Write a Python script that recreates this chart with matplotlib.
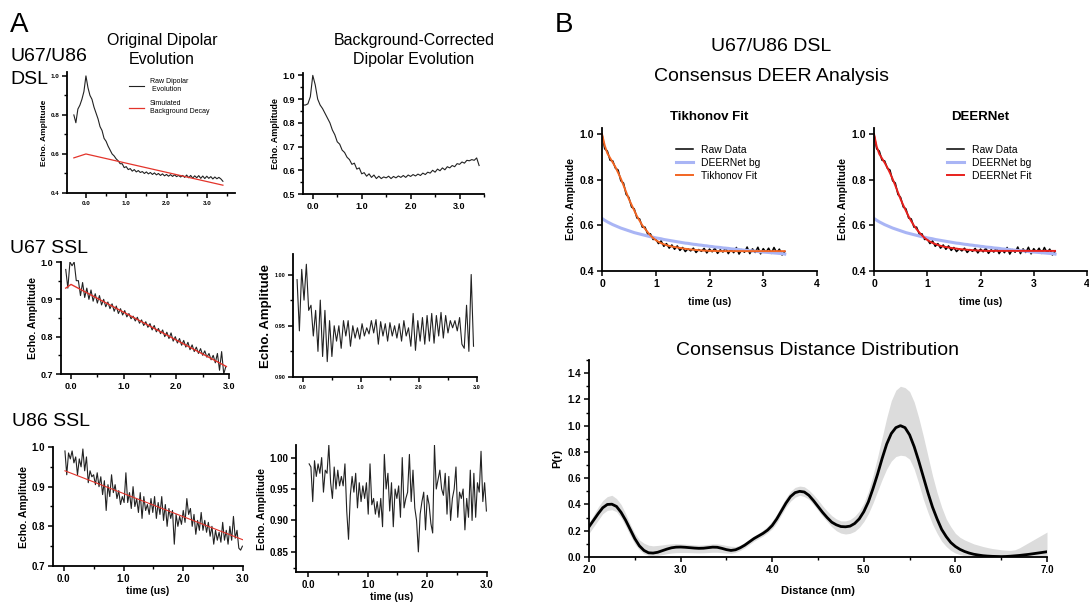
import matplotlib
matplotlib.use("Agg")
import matplotlib.pyplot as plt
from matplotlib.ticker import FormatStrFormatter, MultipleLocator
import numpy as np

plt.rcParams['font.family'] = ['Liberation Sans', 'DejaVu Sans']

W, H = 1089, 603

# ---------------- data ----------------
# U67/U86 DSL, original dipolar evolution
t_dsl = np.round(np.linspace(-0.30, 3.40, 75), 2)
raw_dsl = [0.80, 0.76, 0.83, 0.85, 0.88, 0.92, 1.00, 0.94, 0.90, 0.88,
           0.84, 0.81, 0.78, 0.74, 0.72, 0.68, 0.665, 0.64, 0.62, 0.60,
           0.59, 0.575, 0.565, 0.55, 0.55, 0.53, 0.535, 0.52, 0.525, 0.512,
           0.52, 0.508, 0.515, 0.505, 0.51, 0.50, 0.508, 0.498, 0.505, 0.495,
           0.503, 0.493, 0.50, 0.49, 0.498, 0.488, 0.495, 0.486, 0.494, 0.485,
           0.493, 0.484, 0.49, 0.482, 0.49, 0.48, 0.492, 0.478, 0.49, 0.476,
           0.488, 0.478, 0.489, 0.475, 0.487, 0.474, 0.486, 0.475, 0.484, 0.472,
           0.482, 0.473, 0.48, 0.472, 0.46]
bg_dsl_t = [-0.30, 0.0, 3.40]
bg_dsl = [0.58, 0.60, 0.44]

# U67/U86 DSL, background corrected
t_dsl_c = np.round(np.linspace(-0.20, 3.40, 73), 2)
corr_dsl = [0.875, 0.875, 0.88, 0.91, 1.00, 0.96, 0.90, 0.875, 0.86, 0.84,
            0.82, 0.80, 0.77, 0.75, 0.72, 0.71, 0.685, 0.675, 0.655, 0.645,
            0.625, 0.63, 0.605, 0.61, 0.585, 0.59, 0.575, 0.585, 0.57, 0.58,
            0.565, 0.575, 0.565, 0.572, 0.568, 0.575, 0.565, 0.574, 0.568, 0.576,
            0.57, 0.578, 0.57, 0.58, 0.574, 0.582, 0.576, 0.584, 0.578, 0.588,
            0.582, 0.592, 0.588, 0.60, 0.592, 0.605, 0.598, 0.61, 0.602, 0.615,
            0.61, 0.62, 0.615, 0.628, 0.625, 0.635, 0.63, 0.642, 0.64, 0.645,
            0.642, 0.652, 0.62]

# U67 SSL
t_u67 = np.round(np.linspace(-0.10, 2.94, 77), 2)
raw_u67 = [0.98, 0.93, 1.00, 0.99, 1.00, 0.95, 0.95, 0.91, 0.945, 0.905,
           0.93, 0.90, 0.925, 0.895, 0.915, 0.89, 0.91, 0.885, 0.90, 0.88,
           0.893, 0.875, 0.888, 0.868, 0.882, 0.862, 0.875, 0.858, 0.87, 0.853,
           0.862, 0.848, 0.855, 0.842, 0.852, 0.836, 0.845, 0.83, 0.84, 0.825,
           0.835, 0.818, 0.83, 0.813, 0.822, 0.808, 0.818, 0.80, 0.812, 0.795,
           0.81, 0.788, 0.80, 0.783, 0.795, 0.777, 0.79, 0.772, 0.785, 0.765,
           0.778, 0.76, 0.772, 0.755, 0.768, 0.75, 0.762, 0.745, 0.755, 0.738,
           0.75, 0.73, 0.755, 0.71, 0.76, 0.70, 0.72]
bg_u67_t = [-0.10, 0.0, 2.95]
bg_u67 = [0.93, 0.94, 0.72]
corr_u67 = [0.995, 0.945, 1.005, 0.975, 1.01, 0.965, 0.97, 0.94, 0.965, 0.925,
            0.975, 0.92, 0.965, 0.915, 0.955, 0.92, 0.95, 0.935, 0.95, 0.928,
            0.955, 0.94, 0.955, 0.93, 0.95, 0.938, 0.948, 0.937, 0.952, 0.94,
            0.948, 0.942, 0.955, 0.943, 0.956, 0.932, 0.954, 0.94, 0.952, 0.935,
            0.953, 0.94, 0.95, 0.938, 0.952, 0.935, 0.955, 0.94, 0.948, 0.93,
            0.962, 0.926, 0.955, 0.935, 0.958, 0.932, 0.96, 0.935, 0.962, 0.933,
            0.96, 0.94, 0.963, 0.938, 0.96, 0.943, 0.955, 0.948, 0.955, 0.945,
            0.958, 0.932, 0.928, 0.97, 0.925, 1.00, 0.93]

# U86 SSL
t_u86 = np.round(np.linspace(0.02, 2.99, 100), 2)
raw_u86 = [0.99, 0.93, 0.985, 0.97, 0.99, 0.96, 0.975, 0.93, 0.97, 0.95,
           0.995, 0.94, 0.975, 0.91, 0.94, 0.925, 0.93, 0.905, 0.935, 0.90,
           0.925, 0.88, 0.915, 0.84, 0.905, 0.875, 0.93, 0.885, 0.905, 0.87,
           0.89, 0.855, 0.875, 0.86, 0.935, 0.86, 0.885, 0.845, 0.90, 0.85,
           0.87, 0.835, 0.885, 0.82, 0.875, 0.84, 0.855, 0.83, 0.87, 0.835,
           0.875, 0.82, 0.86, 0.83, 0.875, 0.815, 0.855, 0.80, 0.845, 0.82,
           0.84, 0.755, 0.83, 0.80, 0.825, 0.805, 0.84, 0.81, 0.87, 0.83,
           0.845, 0.80, 0.83, 0.78, 0.815, 0.79, 0.835, 0.79, 0.815, 0.785,
           0.81, 0.775, 0.80, 0.755, 0.79, 0.765, 0.785, 0.76, 0.81, 0.765,
           0.79, 0.755, 0.80, 0.765, 0.825, 0.77, 0.79, 0.745, 0.74, 0.75]
bg_u86_t = [0.02, 3.00]
bg_u86 = [0.94, 0.766]
corr_u86 = [0.99, 0.985, 0.93, 0.995, 0.97, 0.99, 0.975, 1.00, 0.945, 0.98,
            0.975, 1.02, 0.96, 0.935, 0.985, 0.95, 0.98, 0.955, 0.97, 0.955,
            0.99, 0.915, 0.87, 0.94, 0.97, 0.945, 0.975, 0.92, 0.96, 0.93,
            0.955, 0.935, 0.96, 0.91, 0.99, 0.925, 0.935, 0.91, 0.93, 0.905,
            0.935, 0.89, 1.005, 0.95, 0.975, 0.915, 0.96, 0.89, 0.95, 0.935,
            0.955, 0.905, 1.00, 0.92, 0.935, 0.945, 1.005, 0.93, 0.98, 0.92,
            0.90, 0.85, 0.91, 0.93, 0.945, 0.885, 0.94, 0.925, 0.895, 0.88,
            1.02, 0.95, 0.965, 0.98, 0.95, 0.94, 0.975, 0.91, 0.97, 0.90,
            0.935, 0.95, 0.985, 0.905, 0.945, 0.935, 0.95, 0.885, 0.935, 0.905,
            0.98, 0.90, 0.975, 0.905, 0.96, 0.945, 1.01, 0.93, 0.96, 0.915]

# Consensus DEER analysis (panel B)
t_b = np.round(np.linspace(0.0, 3.40, 69), 2)
raw_b = [1.000, 0.935, 0.925, 0.885, 0.882, 0.850, 0.842, 0.795, 0.785, 0.735,
         0.722, 0.680, 0.672, 0.632, 0.628, 0.592, 0.592, 0.562, 0.563, 0.538,
         0.540, 0.520, 0.532, 0.508, 0.520, 0.500, 0.514, 0.495, 0.510, 0.490,
         0.503, 0.485, 0.497, 0.488, 0.500, 0.481, 0.494, 0.486, 0.499, 0.479,
         0.496, 0.484, 0.500, 0.477, 0.493, 0.483, 0.502, 0.476, 0.495, 0.480,
         0.503, 0.474, 0.494, 0.482, 0.505, 0.476, 0.497, 0.481, 0.504, 0.475,
         0.498, 0.482, 0.500, 0.477, 0.503, 0.480, 0.496, 0.470, 0.485]
bg_b = [0.630, 0.622, 0.615, 0.609, 0.603, 0.598, 0.593, 0.588, 0.584, 0.580,
        0.576, 0.572, 0.568, 0.565, 0.562, 0.559, 0.556, 0.553, 0.550, 0.548,
        0.545, 0.543, 0.541, 0.538, 0.536, 0.534, 0.532, 0.530, 0.528, 0.526,
        0.524, 0.522, 0.521, 0.519, 0.517, 0.516, 0.514, 0.513, 0.511, 0.510,
        0.508, 0.507, 0.505, 0.504, 0.503, 0.501, 0.500, 0.499, 0.497, 0.496,
        0.495, 0.494, 0.492, 0.491, 0.490, 0.489, 0.488, 0.487, 0.485, 0.484,
        0.483, 0.482, 0.481, 0.480, 0.479, 0.478, 0.477, 0.476, 0.474]
tik_fit = [1.000, 0.950, 0.915, 0.895, 0.875, 0.855, 0.830, 0.805, 0.775, 0.745,
           0.715, 0.690, 0.665, 0.640, 0.620, 0.600, 0.585, 0.570, 0.556, 0.545,
           0.535, 0.528, 0.522, 0.517, 0.513, 0.510, 0.507, 0.505, 0.503, 0.501,
           0.499, 0.497, 0.496, 0.494, 0.493, 0.492, 0.491, 0.490, 0.489, 0.489,
           0.488, 0.488, 0.488, 0.487, 0.487, 0.487, 0.487, 0.487, 0.487, 0.487,
           0.487, 0.487, 0.487, 0.487, 0.487, 0.487, 0.487, 0.487, 0.487, 0.487,
           0.487, 0.487, 0.487, 0.487, 0.487, 0.487, 0.487, 0.487, 0.487]
dn_fit = [1.000, 0.945, 0.912, 0.893, 0.874, 0.853, 0.829, 0.803, 0.774, 0.744,
          0.714, 0.688, 0.663, 0.639, 0.618, 0.599, 0.583, 0.569, 0.556, 0.545,
          0.536, 0.529, 0.523, 0.518, 0.514, 0.510, 0.507, 0.505, 0.503, 0.501,
          0.499, 0.498, 0.496, 0.495, 0.494, 0.493, 0.492, 0.491, 0.490, 0.490,
          0.489, 0.489, 0.488, 0.488, 0.488, 0.488, 0.488, 0.488, 0.488, 0.488,
          0.488, 0.488, 0.488, 0.488, 0.488, 0.488, 0.488, 0.488, 0.488, 0.488,
          0.488, 0.488, 0.488, 0.488, 0.488, 0.488, 0.488, 0.488, 0.488]

# Consensus distance distribution (r = 2.00 ... 7.00 nm, step 0.05)
r_nm = np.round(np.linspace(2.0, 7.0, 101), 2)
p_r = [0.23, 0.28, 0.33, 0.375, 0.40, 0.402, 0.385, 0.34, 0.28, 0.21,
       0.14, 0.085, 0.05, 0.032, 0.03, 0.036, 0.048, 0.06, 0.07, 0.075,
       0.076, 0.074, 0.071, 0.068, 0.066, 0.067, 0.071, 0.075, 0.074, 0.066,
       0.056, 0.05, 0.055, 0.07, 0.09, 0.115, 0.14, 0.16, 0.18, 0.205,
       0.24, 0.29, 0.35, 0.41, 0.46, 0.49, 0.50, 0.495, 0.47, 0.43,
       0.385, 0.34, 0.30, 0.265, 0.245, 0.232, 0.23, 0.235, 0.255, 0.29,
       0.345, 0.42, 0.52, 0.63, 0.75, 0.86, 0.94, 0.985, 1.00, 0.985,
       0.93, 0.84, 0.73, 0.61, 0.49, 0.38, 0.29, 0.21, 0.155, 0.11,
       0.08, 0.058, 0.042, 0.03, 0.021, 0.015, 0.01, 0.007, 0.005, 0.004,
       0.003, 0.004, 0.006, 0.009, 0.012, 0.016, 0.02, 0.025, 0.03, 0.035,
       0.04]
p_lo = [0.18, 0.23, 0.28, 0.33, 0.355, 0.36, 0.345, 0.30, 0.235, 0.165,
        0.10, 0.055, 0.025, 0.012, 0.01, 0.012, 0.018, 0.025, 0.03, 0.033,
        0.034, 0.034, 0.033, 0.032, 0.031, 0.032, 0.034, 0.036, 0.036, 0.033,
        0.03, 0.028, 0.035, 0.05, 0.07, 0.095, 0.12, 0.14, 0.16, 0.185,
        0.215, 0.26, 0.32, 0.38, 0.425, 0.455, 0.47, 0.46, 0.44, 0.40,
        0.355, 0.31, 0.27, 0.23, 0.20, 0.182, 0.175, 0.18, 0.195, 0.225,
        0.27, 0.33, 0.41, 0.50, 0.59, 0.67, 0.73, 0.765, 0.775, 0.77,
        0.745, 0.67, 0.56, 0.44, 0.34, 0.25, 0.18, 0.12, 0.08, 0.05,
        0.03, 0.018, 0.01, 0.005, 0.002, 0.0, 0.0, 0.0, 0.0, 0.0,
        0.0, 0.0, 0.0, 0.0, 0.0, 0.0, 0.0, 0.0, 0.002, 0.005,
        0.008]
p_hi = [0.26, 0.32, 0.38, 0.43, 0.46, 0.47, 0.445, 0.40, 0.33, 0.25,
        0.18, 0.13, 0.105, 0.09, 0.085, 0.088, 0.092, 0.097, 0.10, 0.102,
        0.10, 0.098, 0.095, 0.092, 0.09, 0.092, 0.096, 0.10, 0.10, 0.095,
        0.088, 0.082, 0.08, 0.09, 0.11, 0.135, 0.16, 0.18, 0.205, 0.235,
        0.275, 0.325, 0.39, 0.45, 0.50, 0.53, 0.54, 0.535, 0.51, 0.475,
        0.435, 0.39, 0.35, 0.315, 0.29, 0.275, 0.275, 0.285, 0.31, 0.35,
        0.41, 0.50, 0.62, 0.76, 0.91, 1.06, 1.19, 1.27, 1.30, 1.29,
        1.26, 1.18, 1.06, 0.92, 0.77, 0.62, 0.49, 0.38, 0.29, 0.23,
        0.18, 0.15, 0.13, 0.115, 0.10, 0.09, 0.08, 0.072, 0.065, 0.06,
        0.055, 0.052, 0.05, 0.055, 0.07, 0.09, 0.11, 0.13, 0.15, 0.17,
        0.19]

RED = '#e3342b'
NARROW = ['Liberation Sans Narrow', 'Liberation Sans', 'DejaVu Sans']

fig = plt.figure(figsize=(W / 100, H / 100), dpi=100)


def px_axes(x0, y0, x1, y1):
    return fig.add_axes([x0 / W, 1 - y1 / H, (x1 - x0) / W, (y1 - y0) / H])


def style(ax, fs, xmaj, ymaj, xminor=None, yminor=None, xfmt='%.1f', yfmt='%.1f',
          family=None):
    for s in ('top', 'right'):
        ax.spines[s].set_visible(False)
    for s in ('left', 'bottom'):
        ax.spines[s].set_linewidth(1.3)
    ax.set_xticks(xmaj)
    ax.set_yticks(ymaj)
    if xminor:
        ax.xaxis.set_minor_locator(MultipleLocator(xminor))
    if yminor:
        ax.yaxis.set_minor_locator(MultipleLocator(yminor))
    ax.xaxis.set_major_formatter(FormatStrFormatter(xfmt))
    ax.yaxis.set_major_formatter(FormatStrFormatter(yfmt))
    ax.tick_params(which='major', length=3.5, width=1.1, labelsize=fs, pad=2)
    ax.tick_params(which='minor', length=2.5, width=1.0)
    for lab in ax.get_xticklabels() + ax.get_yticklabels():
        lab.set_fontweight('bold')
        if family:
            lab.set_family(family)


def ylab(ax, fs, pad=2):
    ax.set_ylabel('Echo. Amplitude', fontsize=fs, fontweight='bold', labelpad=pad)


# ---------------- panel A ----------------
fig.text(10 / W, 1 - 12 / H, 'A', fontsize=20, va='top')
fig.text(10 / W, 1 - 48 / H, 'U67/U86', fontsize=14, va='top')
fig.text(10 / W, 1 - 71 / H, 'DSL', fontsize=14, va='top')
fig.text(162 / W, 1 - 33 / H, 'Original Dipolar\nEvolution', fontsize=11.5,
         va='top', ha='center', linespacing=1.3)
fig.text(414 / W, 1 - 33 / H, 'Background-Corrected\nDipolar Evolution', fontsize=11.5,
         va='top', ha='center', linespacing=1.3)
fig.text(10 / W, 1 - 240 / H, 'U67 SSL', fontsize=14, va='top')
fig.text(12 / W, 1 - 413 / H, 'U86 SSL', fontsize=14, va='top')

ax = px_axes(67, 72, 235, 193)
ax.plot(t_dsl, raw_dsl, color='#222222', lw=0.8, label='Raw Dipolar\n Evolution')
ax.plot(bg_dsl_t, bg_dsl, color=RED, lw=0.9, label='Simulated\nBackground Decay')
ax.set_xlim(-0.47, 3.7)
ax.set_ylim(0.4, 1.02)
style(ax, 4.5, [0, 1, 2, 3], [0.4, 0.6, 0.8, 1.0], 0.5, 0.1)
ylab(ax, 6)
ax.legend(loc='upper left', bbox_to_anchor=(0.33, 1.0), frameon=False, fontsize=5,
          handlelength=2.2, labelspacing=1.0)

ax = px_axes(303, 73, 484, 194)
ax.plot(t_dsl_c, corr_dsl, color='#222222', lw=0.8)
ax.set_xlim(-0.2, 3.5)
ax.set_ylim(0.5, 1.01)
style(ax, 6.5, [0, 1, 2, 3], [0.5, 0.6, 0.7, 0.8, 0.9, 1.0], 0.5, 0.05)
ylab(ax, 6.5)

ax = px_axes(61, 262, 229, 374)
ax.plot(t_u67, raw_u67, color='#222222', lw=0.8)
ax.plot(bg_u67_t, bg_u67, color=RED, lw=1.0)
ax.set_xlim(-0.19, 3.0)
ax.set_ylim(0.7, 1.0)
style(ax, 6.5, [0, 1, 2, 3], [0.7, 0.8, 0.9, 1.0], 0.5, 0.05)
ylab(ax, 7.5)

ax = px_axes(293, 254, 477, 377)
ax.plot(t_u67, corr_u67, color='#222222', lw=0.8)
ax.set_xlim(-0.17, 3.0)
ax.set_ylim(0.9, 1.02)
style(ax, 4, [0, 1, 2, 3], [0.90, 0.95, 1.00], 0.5, 0.025, yfmt='%.2f')
ylab(ax, 9.5)

ax = px_axes(53, 447, 243, 566)
ax.plot(t_u86, raw_u86, color='#222222', lw=0.8)
ax.plot(bg_u86_t, bg_u86, color=RED, lw=0.8)
ax.set_xlim(-0.18, 3.0)
ax.set_ylim(0.7, 1.0)
style(ax, 7, [0, 1, 2, 3], [0.7, 0.8, 0.9, 1.0], 0.5, 0.05)
ylab(ax, 7.5)
ax.set_xlabel('time (us)', fontsize=7.5, fontweight='bold', labelpad=2)

ax = px_axes(296, 445, 487, 572)
ax.plot(t_u86, corr_u86, color='#222222', lw=0.8)
ax.set_xlim(-0.2, 3.0)
ax.set_ylim(0.818, 1.02)
style(ax, 7, [0, 1, 2, 3], [0.85, 0.90, 0.95, 1.00], 0.5, 0.025, yfmt='%.2f')
ylab(ax, 7.5)
ax.set_xlabel('time (us)', fontsize=7.5, fontweight='bold', labelpad=2)

# ---------------- panel B ----------------
fig.text(555 / W, 1 - 12 / H, 'B', fontsize=20, va='top')
fig.text(771 / W, 1 - 38 / H, 'U67/U86 DSL', fontsize=14, va='top', ha='center')
fig.text(771 / W, 1 - 68 / H, 'Consensus DEER Analysis', fontsize=14, va='top', ha='center')

for x0, x1, fit, fit_color, fit_label, title in [
        (602, 817, tik_fit, '#f26522', 'Tikhonov Fit', 'Tikhonov Fit'),
        (874, 1087, dn_fit, '#e8201c', 'DEERNet Fit', 'DEERNet')]:
    ax = px_axes(x0, 128, x1, 271)
    ax.plot(t_b, raw_b, color='black', lw=1.1, label='Raw Data')
    ax.plot(t_b, bg_b, color='#a9b5f5', lw=2.2, label='DEERNet bg')
    ax.plot(t_b, fit, color=fit_color, lw=1.4, label=fit_label)
    ax.set_xlim(0, 4)
    ax.set_ylim(0.4, 1.026)
    style(ax, 7.5, [0, 1, 2, 3, 4], [0.4, 0.6, 0.8, 1.0], xfmt='%d')
    ylab(ax, 7.5, pad=3)
    ax.set_xlabel('time (us)', fontsize=7.5, fontweight='bold', labelpad=6)
    ax.set_title(title, fontsize=9.5, fontweight='bold', pad=6)
    ax.legend(loc='upper left', bbox_to_anchor=(0.3, 0.95), frameon=False, fontsize=7.5,
              handlelength=1.6, labelspacing=0.3, handletextpad=0.8)

ax = px_axes(589, 360, 1047, 557)
ax.fill_between(r_nm, p_lo, p_hi, color='#dcdcdc', lw=0)
ax.plot(r_nm, p_r, color='black', lw=2.0)
ax.set_xlim(2.0, 7.0)
ax.set_ylim(0, 1.5)
style(ax, 7, [2, 3, 4, 5, 6, 7], [0, 0.2, 0.4, 0.6, 0.8, 1.0, 1.2, 1.4], 0.5, 0.1,
      family=NARROW)
ax.set_ylabel('P(r)', fontsize=8, fontweight='bold', labelpad=4)
ax.set_xlabel('Distance (nm)', fontsize=8, fontweight='bold', labelpad=8)
fig.text(817 / W, 1 - 342 / H, 'Consensus Distance Distribution', fontsize=14,
         va='top', ha='center')

fig.savefig('out.png', dpi=100)
